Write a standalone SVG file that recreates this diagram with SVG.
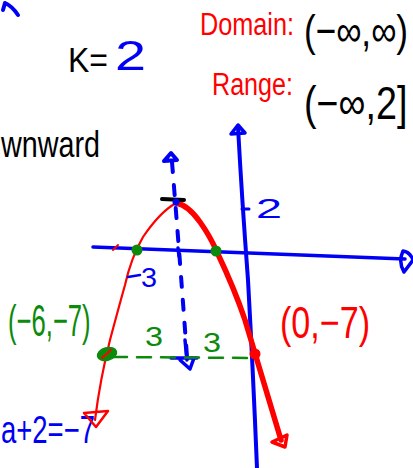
<svg xmlns="http://www.w3.org/2000/svg" width="413" height="468" viewBox="0 0 413 468">
<style>
.t{font-family:"Liberation Sans",Arial,sans-serif}
.k{fill:#000}.r{fill:#f00}.b{fill:#0000f5}.g{fill:#0c8a0c}
.sb{stroke:#0000f5;fill:none;stroke-linecap:round;stroke-linejoin:round}
.sr{stroke:#f00;fill:none;stroke-linecap:round;stroke-linejoin:round}
.sg{stroke:#0c8a0c;fill:none;stroke-linecap:round}
</style>
<rect width="413" height="468" fill="#fff"/>
<g id="corner-arrow"><path class="sb" stroke-width="4" d="M3 10 L5 3 Q12 6 18 15"/></g>
<g id="labels">
<text class="t k" x="68" y="72" font-size="35" textLength="40" lengthAdjust="spacingAndGlyphs">K=</text>
<text class="t b" x="115" y="70" font-size="42" textLength="31" lengthAdjust="spacingAndGlyphs">2</text>
<text class="t r" x="200" y="35" font-size="31" textLength="94" lengthAdjust="spacingAndGlyphs">Domain:</text>
<text class="t k" font-size="44" transform="translate(304 46) scale(0.8 1)">(−∞,∞)</text>
<text class="t r" x="212" y="95" font-size="31" textLength="81" lengthAdjust="spacingAndGlyphs">Range:</text>
<text class="t k" font-size="46" transform="translate(304 119) scale(0.82 1)">(−∞,2]</text>
<text class="t k" x="1" y="157" font-size="36" textLength="99" lengthAdjust="spacingAndGlyphs">wnward</text>
<text class="t g" font-size="45" transform="translate(8 336) scale(0.57 1)">(−6,−7)</text>
<text class="t r" x="280" y="338" font-size="45" textLength="90" lengthAdjust="spacingAndGlyphs">(0,−7)</text>
<text class="t b" x="1" y="443" font-size="38" textLength="94" lengthAdjust="spacingAndGlyphs">a+2=−7</text>
</g>
<g id="connectors">
<path class="sb" stroke-width="4" d="M238 127 Q242 200 248 280 Q253 370 257 468"/>
<path class="sb" stroke-width="3.5" d="M231 134 L238 125 L245 133 Z"/>
<path class="sb" stroke-width="3.5" d="M93 247 Q250 253 405 259"/>
<path class="sb" stroke-width="3.5" d="M403 251 Q398 262 404 272 L413 260 Q410 252 403 251 Z"/>
<path class="sb" stroke-width="3" d="M242 209 L249 209"/>
<text class="t b" x="256" y="218" font-size="28" textLength="26" lengthAdjust="spacingAndGlyphs">2</text>
<path class="sb" stroke-width="4" stroke-dasharray="10 13" d="M172 162 Q180 260 187 357"/>
<path class="sb" stroke-width="4" d="M164 161 L171 153 L177 160 Z"/>
<path class="sb" stroke-width="3.5" d="M178 248 L179 256"/>
<path class="sb" stroke-width="3.5" d="M185 340 L187 360 M171 358 L197 358 M180 360 L190 369 L194 358"/>
<path class="sr" stroke-width="2.2" d="M176 203 Q160 212 143 237 Q131 258 125 285 Q118 310 110 340 Q100 380 95 420"/>
<path class="sr" stroke-width="2.5" d="M84 413 L108 411 L96 427 Z"/>
<path class="sr" stroke-width="5.5" d="M176 203 Q188 205 200 222 Q210 236 217 252 Q235 290 245 320 Q260 370 281 440"/>
<path class="sr" stroke-width="3.5" d="M272 442 L287 435 L285 447 Z"/>
<path class="sr" stroke-width="2" d="M113 250 L118 245"/>
<path stroke="#000" stroke-width="4" stroke-linecap="round" d="M162 199 L184 200"/>
<circle cx="176" cy="202" r="3.5" fill="#0000f5"/>
<circle cx="137" cy="250" r="5.5" fill="#0c8a0c"/>
<circle cx="216" cy="251" r="5.5" fill="#0c8a0c"/>
<path class="sb" stroke-width="2.5" d="M128 277 L140 275"/>
<text class="t b" x="141" y="287" font-size="28" textLength="16" lengthAdjust="spacingAndGlyphs">3</text>
<path class="sg" stroke-width="2.5" stroke-dasharray="14 10" d="M113 357 L255 358"/>
<text class="t g" x="145" y="346" font-size="28" textLength="18" lengthAdjust="spacingAndGlyphs">3</text>
<text class="t g" x="203" y="352" font-size="28" textLength="18" lengthAdjust="spacingAndGlyphs">3</text>
<ellipse cx="107" cy="354" rx="10.5" ry="7" transform="rotate(-15 107 354)" fill="#0c8a0c"/>
<path class="sr" stroke-width="2" d="M102 358 L111 350"/>
<circle cx="255" cy="354" r="5.5" fill="#f00"/>
</g>
</svg>
